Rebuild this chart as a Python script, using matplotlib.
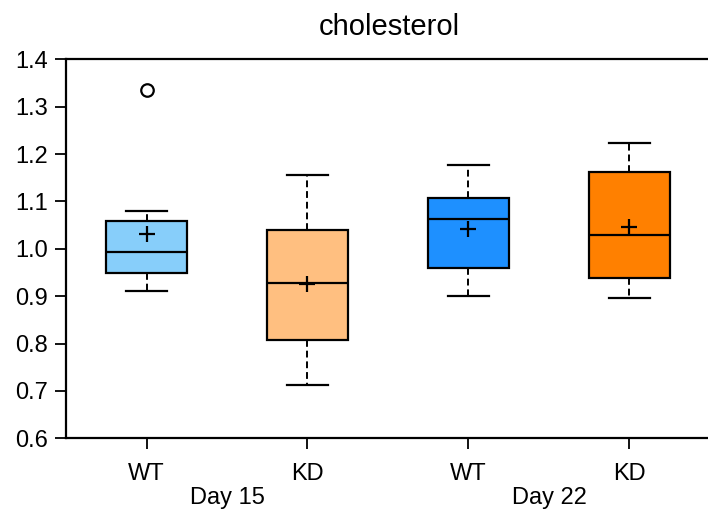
import matplotlib
matplotlib.use("Agg")
import matplotlib.pyplot as plt

plt.rcParams['font.family'] = ['Liberation Sans', 'DejaVu Sans']

# Box statistics
groups = ["WT", "KD", "WT", "KD"]
days = ["Day 15", "Day 22"]
whislo = [0.911, 0.712, 0.900, 0.897]
q1 = [0.949, 0.807, 0.960, 0.939]
med = [0.993, 0.928, 1.063, 1.030]
q3 = [1.059, 1.040, 1.108, 1.162]
whishi = [1.080, 1.155, 1.177, 1.224]
means = [1.031, 0.925, 1.042, 1.047]
fliers = [[1.336], [], [], []]
colors = ["#87CEFA", "#FFBF80", "#1E90FF", "#FF8000"]

stats = []
for i in range(4):
    stats.append(dict(whislo=whislo[i], q1=q1[i], med=med[i], q3=q3[i],
                      whishi=whishi[i], mean=means[i], fliers=fliers[i]))

fig = plt.figure(figsize=(7.08, 5.14), dpi=100)
ax = fig.add_axes([66 / 708, 1 - 438.3 / 514, 644 / 708, 379 / 514])

bp = ax.bxp(stats, positions=[1, 2, 3, 4], widths=0.5, patch_artist=True,
            showmeans=True, meanline=False,
            boxprops=dict(linewidth=1.6, edgecolor="black"),
            medianprops=dict(color="black", linewidth=1.6),
            whiskerprops=dict(color="black", linewidth=1.4, linestyle=(0, (3.5, 2))),
            capprops=dict(color="black", linewidth=1.6),
            capwidths=0.25,
            meanprops=dict(marker="+", markeredgecolor="black", markersize=12,
                           markeredgewidth=1.6),
            flierprops=dict(marker="o", markerfacecolor="white",
                            markeredgecolor="black", markersize=9,
                            markeredgewidth=1.6))
for patch, c in zip(bp["boxes"], colors):
    patch.set_facecolor(c)

ax.set_xlim(0.5, 4.5)
ax.set_ylim(0.6, 1.4)
ax.set_yticks([0.6, 0.7, 0.8, 0.9, 1.0, 1.1, 1.2, 1.3, 1.4])
ax.set_yticklabels([f"{v:.1f}" for v in ax.get_yticks()])
ax.set_xticks([1, 2, 3, 4])
ax.set_xticklabels(groups)
ax.tick_params(axis="both", labelsize=17, width=1.3, length=8, direction="out")
ax.tick_params(axis="x", pad=10)
ax.tick_params(axis="y", pad=5)
for s in ax.spines.values():
    s.set_linewidth(1.6)

ax.text(1.5, -0.158, days[0], transform=ax.get_xaxis_transform(),
        ha="center", va="center", fontsize=17)
ax.text(3.5, -0.158, days[1], transform=ax.get_xaxis_transform(),
        ha="center", va="center", fontsize=17)

fig.text(389 / 708, 1 - 27 / 514, "cholesterol", ha="center", va="center",
         fontsize=21)

fig.savefig("out.png", dpi=100)
